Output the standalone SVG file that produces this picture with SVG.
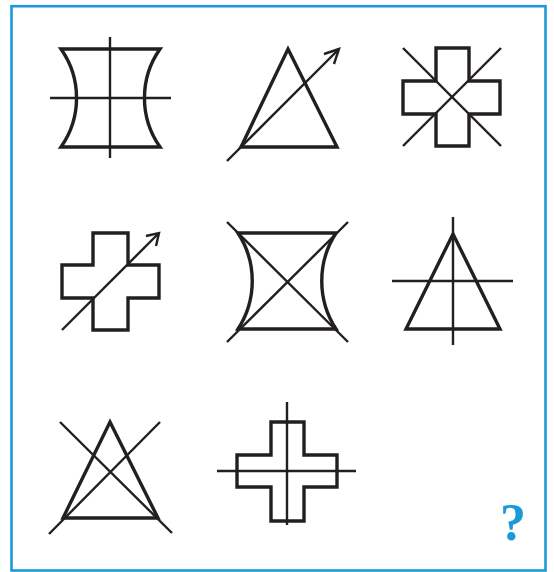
<svg xmlns="http://www.w3.org/2000/svg" width="554" height="572" viewBox="0 0 554 572">
<style>
.o{fill:none;stroke:#231f20;stroke-width:3.4;stroke-linejoin:miter}
.l{fill:none;stroke:#231f20;stroke-width:2.4;stroke-linecap:butt}
.q{font-family:"Liberation Serif",serif;font-weight:bold;font-size:52px;fill:#1a9ad6}
</style>
<rect x="11.5" y="6.2" width="534" height="564.3" fill="#fff" stroke="#1a9ad6" stroke-width="2.6"/>
<g id="fig1">
<path class="o" d="M61,49 H160 A85,85 0 0 0 160,147 H61 A85,85 0 0 0 61,49 Z"/>
<line class="l" x1="110" y1="37" x2="110" y2="158"/>
<line class="l" x1="50" y1="98" x2="171" y2="98"/>
</g>
<g id="fig2">
<path class="o" d="M288,49 L337,147 H241 Z"/>
<line class="l" x1="227" y1="161" x2="339" y2="49"/>
<path class="l" d="M324,54 L339,49 L334,64"/>
</g>
<g id="fig3">
<path class="o" d="M436,48 H469 V81 H500 V114 H469 V146 H436 V114 H403 V81 H436 Z"/>
<line class="l" x1="403" y1="48" x2="501" y2="146"/>
<line class="l" x1="501" y1="48" x2="403" y2="146"/>
</g>
<g id="fig4">
<path class="o" d="M93,233 H128 V265 H159 V298 H128 V330 H93 V298 H62 V265 H93 Z"/>
<line class="l" x1="62" y1="330" x2="159" y2="233"/>
<path class="l" d="M146,236 L159,233 L156,246"/>
</g>
<g id="fig5">
<path class="o" d="M238,233 H336 A88,88 0 0 0 336,329 H238 A88,88 0 0 0 238,233 Z"/>
<line class="l" x1="227" y1="222" x2="348" y2="342"/>
<line class="l" x1="348" y1="222" x2="227" y2="342"/>
</g>
<g id="fig6">
<path class="o" d="M453,234 L500,329 H406 Z"/>
<line class="l" x1="453" y1="217" x2="453" y2="345"/>
<line class="l" x1="392" y1="281" x2="513" y2="281"/>
</g>
<g id="fig7">
<path class="o" d="M110,422 L158,518 H63 Z"/>
<line class="l" x1="60" y1="422" x2="172" y2="533"/>
<line class="l" x1="160" y1="422" x2="49" y2="534"/>
</g>
<g id="fig8">
<path class="o" d="M271,422 H304 V455 H337 V487 H304 V521 H271 V487 H237 V455 H271 Z"/>
<line class="l" x1="287" y1="402" x2="287" y2="525"/>
<line class="l" x1="217" y1="471" x2="356" y2="471"/>
</g>
<text class="q" x="513" y="540" text-anchor="middle">?</text>
</svg>
